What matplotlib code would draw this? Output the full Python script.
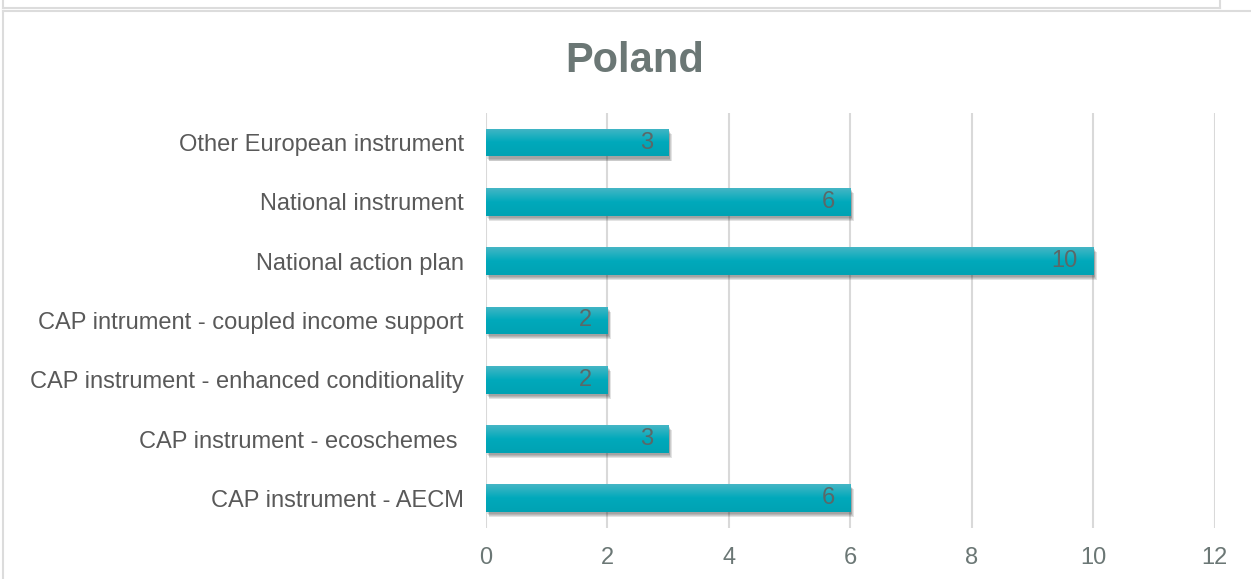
import numpy as np
import matplotlib.pyplot as plt
import matplotlib.patheffects as pe
from matplotlib.lines import Line2D
from matplotlib.colors import LinearSegmentedColormap

plt.rcParams['font.family'] = ['Liberation Sans', 'DejaVu Sans']

# categories from bottom to top
categorias = ["CAP instrument - AECM",
              "CAP instrument - ecoschemes ",
              "CAP instrument - enhanced conditionality",
              "CAP intrument - coupled income support",
              "National action plan",
              "National instrument",
              "Other European instrument"]
valores = [6, 3, 2, 2, 10, 6, 3]
ticks_x = [0, 2, 4, 6, 8, 10, 12]

gris_texto = "#595959"
gris_ejes = "#6b7775"
gris_rejilla = "#d9d9d9"

fig = plt.figure(figsize=(12.51, 5.79), dpi=100)
ax = fig.add_axes([0.3885, 0.088, 0.5825, 0.717])

y = np.arange(len(categorias))
barras = ax.barh(y, valores, height=0.47, color="#06a9ba", zorder=3)

# degradado vertical dentro de cada barra + sombra difusa
degradado = LinearSegmentedColormap.from_list("g", ["#45b6c5", "#00a9bb", "#00a2b3"])
grad = np.linspace(0, 1, 64).reshape(-1, 1)
sombra = [pe.SimplePatchShadow(offset=(1 + 0.5 * k, -1.5 - 0.7 * k), alpha=0.12,
                               shadow_rgbFace="#202020") for k in range(4)]
for b in barras:
    b.set_path_effects(sombra + [pe.Normal()])
    x0, y0 = b.get_x(), b.get_y()
    w, h = b.get_width(), b.get_height()
    im = ax.imshow(grad, cmap=degradado, aspect="auto", extent=[x0, x0 + w, y0, y0 + h],
                   origin="upper", zorder=4)
    im.set_clip_path(b)

for yi, v in zip(y, valores):
    ax.annotate(str(v), xy=(v, yi), xytext=(-11, 0), textcoords="offset points",
                ha="right", va="center", fontsize=17, color="#5a6868", zorder=5)

ax.set_xlim(0, 12)
ax.set_ylim(-0.5, len(categorias) - 0.5)
ax.set_xticks(ticks_x)
ax.set_yticks(y)
ax.set_yticklabels(categorias)
ax.tick_params(axis="y", length=0, pad=16, labelsize=17, labelcolor=gris_texto)
ax.tick_params(axis="x", length=0, pad=14, labelsize=17, labelcolor=gris_ejes)
ax.grid(axis="x", color=gris_rejilla, linewidth=1.5, zorder=0)
ax.set_axisbelow(True)
for s in ax.spines.values():
    s.set_visible(False)

fig.text(0.5076, 0.895, "Poland", ha="center", va="center", fontsize=30,
         fontweight="bold", color="#6b7775")

# marcos de los graficos
W, H = 1251, 579
def linea(x1, y1, x2, y2):
    fig.add_artist(Line2D([x1 / W, x2 / W], [1 - y1 / H, 1 - y2 / H],
                          color="#dcdcdc", linewidth=1.5, transform=fig.transFigure))

linea(3, 0, 3, 8)
linea(1220, 0, 1220, 8)
linea(3, 7.5, 1220, 7.5)
linea(3, 11, W, 11)
linea(3, 11, 3, H)

fig.savefig("out.png", dpi=100)
